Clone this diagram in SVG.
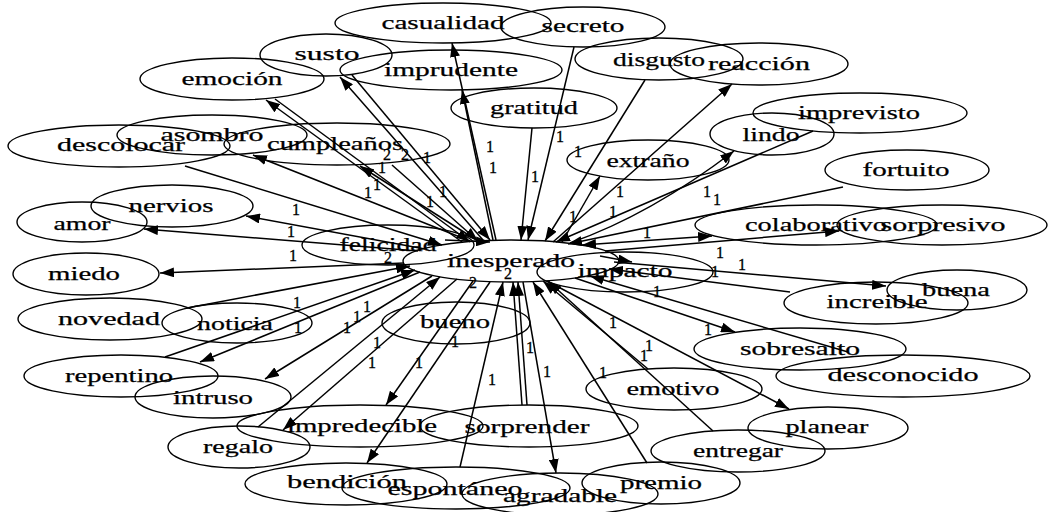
<svg xmlns="http://www.w3.org/2000/svg" width="1049" height="512" viewBox="0 0 1049 512">
<style>
.n ellipse{fill:none;stroke:#000;stroke-width:1.4}
.n text{font-family:"Liberation Serif","Times New Roman",serif;font-size:19px;text-anchor:middle;fill:#000;stroke:#000;stroke-width:0.25}
.e path{fill:none;stroke:#000;stroke-width:1.5}
.l text{font-family:"Liberation Serif","Times New Roman",serif;font-size:16px;text-anchor:middle;fill:#000;stroke:#000;stroke-width:0.3}
</style>
<defs>
<marker id="ah" viewBox="0 0 14 10" markerWidth="14" markerHeight="10" refX="14" refY="5" orient="auto" markerUnits="userSpaceOnUse"><path d="M0,0L14,5L0,10z" fill="#000"/></marker>
<marker id="as" viewBox="0 0 14 10" markerWidth="14" markerHeight="10" refX="14" refY="5" orient="auto-start-reverse" markerUnits="userSpaceOnUse"><path d="M0,0L14,5L0,10z" fill="#000"/></marker>
</defs>
<rect width="1049" height="512" fill="#fff"/>
<g id="edges" class="e">
<path d="M185,166L442,245" marker-end="url(#ah)"/>
<path d="M392,165L478,241" marker-end="url(#ah)"/>
<path d="M275,99L470,242" marker-end="url(#ah)"/>
<path d="M352,75L490,240" marker-end="url(#ah)"/>
<path d="M532,128L521,240" marker-end="url(#ah)"/>
<path d="M574,47L528,240" marker-end="url(#ah)"/>
<path d="M645,80L545,241" marker-end="url(#ah)"/>
<path d="M813,131L556,242" marker-end="url(#ah)"/>
<path d="M843,187L568,244" marker-end="url(#ah)"/>
<path d="M582,245L712,236" marker-start="url(#as)" marker-end="url(#ah)"/>
<path d="M790,292L609,269" marker-end="url(#ah)"/>
<path d="M848,352L590,276" marker-end="url(#ah)"/>
<path d="M648,369L543,281" marker-end="url(#ah)"/>
<path d="M713,431L548,281" marker-end="url(#ah)"/>
<path d="M647,463L533,282" marker-end="url(#ah)"/>
<path d="M527,405L518,282" marker-end="url(#ah)"/>
<path d="M522,405L513,282" marker-end="url(#ah)"/>
<path d="M460,467L503,282" marker-end="url(#ah)"/>
<path d="M258,427L440,277" marker-end="url(#ah)"/>
<path d="M165,357L415,270" marker-end="url(#ah)"/>
<path d="M187,308L410,266" marker-end="url(#ah)"/>
<path d="M445,240L490,242" marker-end="url(#ah)"/>
<path d="M470,241L253,155" marker-end="url(#ah)"/>
<path d="M478,241L360,166" marker-end="url(#ah)"/>
<path d="M462,242L266,100" marker-end="url(#ah)"/>
<path d="M483,240L340,77" marker-end="url(#ah)"/>
<path d="M496,240L452,43" marker-end="url(#ah)"/>
<path d="M493,240L462,90" marker-end="url(#ah)"/>
<path d="M553,242L732,84" marker-end="url(#ah)"/>
<path d="M562,242L600,176" marker-end="url(#ah)"/>
<path d="M570,243Q650,215 734,151" marker-end="url(#ah)"/>
<path d="M605,251L839,231" marker-end="url(#ah)"/>
<path d="M614,262L886,286" marker-end="url(#ah)"/>
<path d="M575,278L735,332" marker-end="url(#ah)"/>
<path d="M547,281L789,409" marker-end="url(#ah)"/>
<path d="M523,282L556,473" marker-end="url(#ah)"/>
<path d="M490,282L367,463" marker-end="url(#ah)"/>
<path d="M473,281L386,405" marker-end="url(#ah)"/>
<path d="M457,279L283,430" marker-end="url(#ah)"/>
<path d="M432,276L265,379" marker-end="url(#ah)"/>
<path d="M420,272L200,362" marker-end="url(#ah)"/>
<path d="M404,263L160,273" marker-end="url(#ah)"/>
<path d="M418,251L144,229" marker-end="url(#ah)"/>
<path d="M425,249L246,216" marker-end="url(#ah)"/>
<path d="M600,256L632,262" marker-end="url(#ah)"/>
</g>
<g id="n-casualidad" class="n"><ellipse cx="443" cy="23" rx="108" ry="20"/><text x="443" y="29" textLength="123" lengthAdjust="spacingAndGlyphs">casualidad</text></g>
<g id="n-secreto" class="n"><ellipse cx="583" cy="27" rx="82" ry="20"/><text x="583" y="32" textLength="83" lengthAdjust="spacingAndGlyphs">secreto</text></g>
<g id="n-susto" class="n"><ellipse cx="326" cy="55" rx="66" ry="21"/><text x="327" y="60" textLength="65" lengthAdjust="spacingAndGlyphs">susto</text></g>
<g id="n-imprudente" class="n"><ellipse cx="451" cy="70" rx="111" ry="20"/><text x="451" y="76" textLength="134" lengthAdjust="spacingAndGlyphs">imprudente</text></g>
<g id="n-emocion" class="n"><ellipse cx="232" cy="79" rx="92" ry="21"/><text x="232" y="85" textLength="101" lengthAdjust="spacingAndGlyphs">emoción</text></g>
<g id="n-gratitud" class="n"><ellipse cx="534" cy="108" rx="83" ry="20"/><text x="534" y="114" textLength="88" lengthAdjust="spacingAndGlyphs">gratitud</text></g>
<g id="n-disgusto" class="n"><ellipse cx="659" cy="59" rx="84" ry="21"/><text x="659" y="66" textLength="92" lengthAdjust="spacingAndGlyphs">disgusto</text></g>
<g id="n-reaccion" class="n"><ellipse cx="759" cy="64" rx="89" ry="21"/><text x="759" y="70" textLength="102" lengthAdjust="spacingAndGlyphs">reacción</text></g>
<g id="n-asombro" class="n"><ellipse cx="212" cy="135" rx="95" ry="20"/><text x="212" y="141" textLength="103" lengthAdjust="spacingAndGlyphs">asombro</text></g>
<g id="n-descolocar" class="n"><ellipse cx="119" cy="146" rx="111" ry="21"/><text x="121" y="151" textLength="128" lengthAdjust="spacingAndGlyphs">descolocar</text></g>
<g id="n-cumpleanos" class="n"><ellipse cx="337" cy="144" rx="113" ry="21"/><text x="335" y="150" textLength="136" lengthAdjust="spacingAndGlyphs">cumpleaños</text></g>
<g id="n-extrano" class="n"><ellipse cx="648" cy="160" rx="81" ry="20"/><text x="648" y="167" textLength="83" lengthAdjust="spacingAndGlyphs">extraño</text></g>
<g id="n-lindo" class="n"><ellipse cx="772" cy="134" rx="62" ry="21"/><text x="771" y="141" textLength="57" lengthAdjust="spacingAndGlyphs">lindo</text></g>
<g id="n-imprevisto" class="n"><ellipse cx="860" cy="113" rx="107" ry="20"/><text x="859" y="119" textLength="122" lengthAdjust="spacingAndGlyphs">imprevisto</text></g>
<g id="n-fortuito" class="n"><ellipse cx="907" cy="170" rx="82" ry="20"/><text x="906" y="176" textLength="87" lengthAdjust="spacingAndGlyphs">fortuito</text></g>
<g id="n-colaborativo" class="n"><ellipse cx="816" cy="225" rx="121" ry="20"/><text x="816" y="231" textLength="142" lengthAdjust="spacingAndGlyphs">colaborativo</text></g>
<g id="n-sorpresivo" class="n"><ellipse cx="942" cy="225" rx="105" ry="20"/><text x="943" y="231" textLength="125" lengthAdjust="spacingAndGlyphs">sorpresivo</text></g>
<g id="n-nervios" class="n"><ellipse cx="172" cy="206" rx="81" ry="21"/><text x="171" y="212" textLength="85" lengthAdjust="spacingAndGlyphs">nervios</text></g>
<g id="n-amor" class="n"><ellipse cx="82" cy="222" rx="65" ry="20"/><text x="82" y="230" textLength="57" lengthAdjust="spacingAndGlyphs">amor</text></g>
<g id="n-miedo" class="n"><ellipse cx="86" cy="274" rx="73" ry="21"/><text x="84" y="280" textLength="72" lengthAdjust="spacingAndGlyphs">miedo</text></g>
<g id="n-novedad" class="n"><ellipse cx="110" cy="319" rx="92" ry="21"/><text x="109" y="325" textLength="102" lengthAdjust="spacingAndGlyphs">novedad</text></g>
<g id="n-noticia" class="n"><ellipse cx="237" cy="323" rx="75" ry="20"/><text x="235" y="330" textLength="76" lengthAdjust="spacingAndGlyphs">noticia</text></g>
<g id="n-felicidad" class="n"><ellipse cx="388" cy="245" rx="86" ry="20"/><text x="388" y="251" textLength="97" lengthAdjust="spacingAndGlyphs">felicidad</text></g>
<g id="n-inesperado" class="n"><ellipse cx="511" cy="261" rx="108" ry="21"/><text x="511" y="267" textLength="128" lengthAdjust="spacingAndGlyphs">inesperado</text></g>
<g id="n-impacto" class="n"><ellipse cx="625" cy="272" rx="88" ry="20"/><text x="625" y="277" textLength="95" lengthAdjust="spacingAndGlyphs">impacto</text></g>
<g id="n-bueno" class="n"><ellipse cx="456" cy="323" rx="74" ry="21"/><text x="455" y="328" textLength="70" lengthAdjust="spacingAndGlyphs">bueno</text></g>
<g id="n-increible" class="n"><ellipse cx="876" cy="303" rx="92" ry="21"/><text x="877" y="308" textLength="101" lengthAdjust="spacingAndGlyphs">increible</text></g>
<g id="n-buena" class="n"><ellipse cx="957" cy="290" rx="70" ry="20"/><text x="956" y="296" textLength="68" lengthAdjust="spacingAndGlyphs">buena</text></g>
<g id="n-sobresalto" class="n"><ellipse cx="800" cy="349" rx="106" ry="21"/><text x="800" y="355" textLength="120" lengthAdjust="spacingAndGlyphs">sobresalto</text></g>
<g id="n-desconocido" class="n"><ellipse cx="903" cy="376" rx="127" ry="21"/><text x="903" y="381" textLength="151" lengthAdjust="spacingAndGlyphs">desconocido</text></g>
<g id="n-repentino" class="n"><ellipse cx="121" cy="376" rx="97" ry="21"/><text x="119" y="382" textLength="108" lengthAdjust="spacingAndGlyphs">repentino</text></g>
<g id="n-intruso" class="n"><ellipse cx="213" cy="397" rx="78" ry="21"/><text x="213" y="404" textLength="80" lengthAdjust="spacingAndGlyphs">intruso</text></g>
<g id="n-impredecible" class="n"><ellipse cx="360" cy="426" rx="123" ry="21"/><text x="362" y="432" textLength="150" lengthAdjust="spacingAndGlyphs">impredecible</text></g>
<g id="n-sorprender" class="n"><ellipse cx="529" cy="426" rx="109" ry="21"/><text x="527" y="433" textLength="125" lengthAdjust="spacingAndGlyphs">sorprender</text></g>
<g id="n-regalo" class="n"><ellipse cx="239" cy="447" rx="71" ry="21"/><text x="238" y="453" textLength="70" lengthAdjust="spacingAndGlyphs">regalo</text></g>
<g id="n-bendicion" class="n"><ellipse cx="346" cy="484" rx="101" ry="21"/><text x="347" y="488" textLength="120" lengthAdjust="spacingAndGlyphs">bendición</text></g>
<g id="n-espontaneo" class="n"><ellipse cx="456" cy="488" rx="114" ry="21"/><text x="455" y="495" textLength="135" lengthAdjust="spacingAndGlyphs">espontáneo</text></g>
<g id="n-agradable" class="n"><ellipse cx="560" cy="494" rx="98" ry="21"/><text x="560" y="502" textLength="114" lengthAdjust="spacingAndGlyphs">agradable</text></g>
<g id="n-premio" class="n"><ellipse cx="661" cy="483" rx="79" ry="21"/><text x="661" y="489" textLength="82" lengthAdjust="spacingAndGlyphs">premio</text></g>
<g id="n-entregar" class="n"><ellipse cx="738" cy="451" rx="87" ry="21"/><text x="738" y="457" textLength="90" lengthAdjust="spacingAndGlyphs">entregar</text></g>
<g id="n-planear" class="n"><ellipse cx="828" cy="428" rx="80" ry="21"/><text x="827" y="433" textLength="83" lengthAdjust="spacingAndGlyphs">planear</text></g>
<g id="n-emotivo" class="n"><ellipse cx="674" cy="389" rx="88" ry="21"/><text x="673" y="395" textLength="93" lengthAdjust="spacingAndGlyphs">emotivo</text></g>
<g id="labels" class="l">
<text x="296" y="215">1</text><text x="291" y="237">1</text><text x="293" y="261">1</text>
<text x="297" y="308">1</text><text x="298" y="333">1</text><text x="347" y="333">1</text><text x="357" y="322">1</text><text x="367" y="312">1</text>
<text x="377" y="348">1</text><text x="372" y="368">1</text><text x="419" y="368">1</text><text x="455" y="347">1</text><text x="492" y="385">1</text><text x="530" y="353">1</text><text x="547" y="377">1</text>
<text x="603" y="378">1</text><text x="613" y="328">1</text><text x="649" y="351">1</text><text x="644" y="361">1</text><text x="657" y="297">1</text><text x="708" y="335">1</text>
<text x="715" y="277">1</text><text x="720" y="258">1</text><text x="742" y="270">1</text>
<text x="647" y="238">1</text><text x="707" y="197">1</text><text x="717" y="205">1</text><text x="620" y="197">1</text><text x="613" y="217">1</text><text x="573" y="222">1</text><text x="578" y="157">1</text>
<text x="560" y="142">1</text><text x="535" y="182">1</text><text x="490" y="152">1</text><text x="493" y="173">1</text><text x="427" y="163">1</text><text x="443" y="197">1</text><text x="430" y="207">1</text>
<text x="382" y="173">1</text><text x="377" y="190">1</text><text x="368" y="198">1</text>
<text x="387" y="160">2</text><text x="405" y="160">2</text><text x="388" y="263">2</text><text x="508" y="279">2</text><text x="473" y="288">2</text>
</g>
</svg>
